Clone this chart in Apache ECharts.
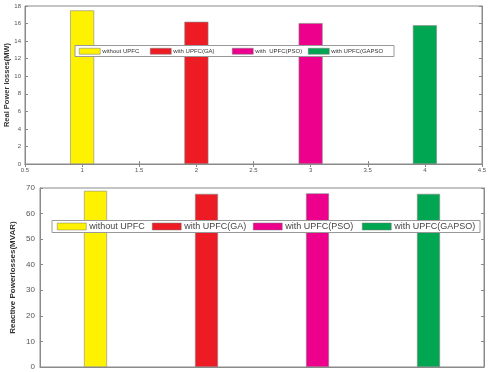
<!DOCTYPE html>
<html><head><meta charset="utf-8">
<script src="https://cdn.jsdelivr.net/npm/echarts@6/dist/echarts.min.js"></script>
<style>html,body{margin:0;padding:0;background:#fff}#c{width:489px;height:372px}</style>
</head><body><div id="c"></div>
<script>
const seriesNames = ['without UPFC', 'with UPFC(GA)', 'with UPFC(PSO)', 'with UPFC(GAPSO)'];
const topLegendLabels = ['without UPFC', 'with UPFC(GA)', 'with  UPFC(PSO)', 'with UPFC(GAPSO'];
const colors = ['#fff200', '#ed1c24', '#ec008c', '#00a651'];
const topX = [1, 2, 3, 4];
const realLoss = [17.5, 16.2, 16.05, 15.8];
const reactiveLoss = [68.9, 67.7, 67.9, 67.7];
const bottomCats = ['1', '2', '3', '4'];

const chart = echarts.init(document.getElementById('c'));
const font = 'Liberation Sans, Arial, sans-serif';
const axisGray = '#8a8a8a';

const series = [];
seriesNames.forEach((n, i) => {
  series.push({
    name: n, type: 'bar', xAxisIndex: 0, yAxisIndex: 0,
    barWidth: 24, barGap: '-100%',
    itemStyle: { color: colors[i], borderColor: '#888', borderWidth: 0.6 },
    data: [[topX[i], realLoss[i]]]
  });
});
seriesNames.forEach((n, i) => {
  const d = bottomCats.map((c, j) => j === i ? reactiveLoss[i] : null);
  series.push({
    name: n, type: 'bar', xAxisIndex: 2, yAxisIndex: 2,
    barWidth: 23, barGap: '-100%',
    itemStyle: { color: colors[i], borderColor: '#888', borderWidth: 0.6 },
    data: d
  });
});

const topLegendLeft = [79, 150, 232, 308];
const botLegendLeft = [57, 152, 253, 362];
const legends = [];
seriesNames.forEach((n, i) => {
  legends.push({
    data: [n], left: topLegendLeft[i], top: 48, padding: 0, z: 10,
    icon: 'rect', itemWidth: 21, itemHeight: 6, selectedMode: false,
    formatter: () => topLegendLabels[i],
    itemStyle: { borderColor: '#777', borderWidth: 0.5 },
    textStyle: { fontSize: 6, fontFamily: font, color: '#333', padding: [0, 0, 0, -3] }
  });
  legends.push({
    data: [n], left: botLegendLeft[i], top: 222, padding: 0, z: 10,
    icon: 'rect', itemWidth: 29, itemHeight: 7, selectedMode: false,
    itemStyle: { borderColor: '#777', borderWidth: 0.5 },
    textStyle: { fontSize: 9, fontFamily: font, color: '#444', padding: [0, 0, 0, -2] }
  });
});

const tick = { show: true, inside: true, length: 3, lineStyle: { color: axisGray } };
const line = { show: true, lineStyle: { color: axisGray, width: 1 } };

chart.setOption({
  animation: false,
  backgroundColor: '#fff',
  grid: [
    { left: 25, right: 7, top: 6, height: 158, show: true, borderColor: axisGray, borderWidth: 1,
      containLabel: false, outerBoundsMode: 'none' },
    { left: 40, right: 5, top: 188, height: 179, show: true, borderColor: axisGray, borderWidth: 1,
      containLabel: false, outerBoundsMode: 'none' }
  ],
  xAxis: [
    { type: 'value', gridIndex: 0, min: 0.5, max: 4.5, interval: 0.5,
      axisLine: line, axisTick: tick, splitLine: { show: false },
      axisLabel: { fontSize: 6, color: '#555', fontFamily: font, margin: 3 } },
    { type: 'value', gridIndex: 0, position: 'top', min: 0.5, max: 4.5, interval: 0.5,
      axisLine: line, axisTick: tick, splitLine: { show: false }, axisLabel: { show: false } },
    { type: 'category', gridIndex: 1, data: bottomCats,
      axisLine: line, axisTick: { show: false }, axisLabel: { show: false } }
  ],
  yAxis: [
    { type: 'value', gridIndex: 0, min: 0, max: 18, interval: 2,
      axisLine: line, axisTick: tick, splitLine: { show: false },
      axisLabel: { fontSize: 6, color: '#555', fontFamily: font, margin: 4 },
      name: 'Real Power losses(MW)', nameLocation: 'middle', nameGap: 14, nameMoveOverlap: false,
      nameTextStyle: { fontSize: 7.5, fontWeight: 'bold', color: '#333', fontFamily: font } },
    { type: 'value', gridIndex: 0, position: 'right', min: 0, max: 18, interval: 2,
      axisLine: line, axisTick: tick, splitLine: { show: false }, axisLabel: { show: false } },
    { type: 'value', gridIndex: 1, min: 0, max: 70, interval: 10,
      axisLine: line, axisTick: tick, splitLine: { show: false },
      axisLabel: { fontSize: 8, color: '#555', fontFamily: font, margin: 5 },
      name: 'Reactive Powerlosses(MVAR)', nameLocation: 'middle', nameGap: 23, nameMoveOverlap: false,
      nameTextStyle: { fontSize: 8, fontWeight: 'bold', color: '#333', fontFamily: font } },
    { type: 'value', gridIndex: 1, position: 'right', min: 0, max: 70, interval: 10,
      axisLine: line, axisTick: tick, splitLine: { show: false }, axisLabel: { show: false } }
  ],
  legend: legends,
  graphic: [
    { type: 'rect', z: 5, shape: { x: 75, y: 45.5, width: 319, height: 11 },
      style: { fill: '#fff', stroke: '#999', lineWidth: 1 } },
    { type: 'rect', z: 5, shape: { x: 52, y: 220.5, width: 428, height: 12 },
      style: { fill: '#fff', stroke: '#999', lineWidth: 1 } }
  ],
  series: series
});
</script></body></html>
